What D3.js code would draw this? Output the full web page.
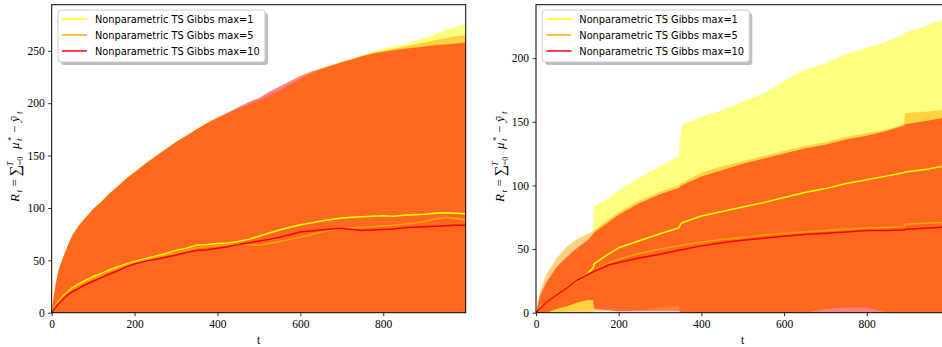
<!DOCTYPE html>
<html><head><meta charset="utf-8">
<script src="https://cdn.jsdelivr.net/npm/d3@7"></script>
<style>
html,body{margin:0;padding:0;background:#fff;}
svg{display:block;}
</style></head><body>
<svg id="chart" width="942" height="347"></svg>
<script>
// ---- series definitions ----
const seriesNames = ["Nonparametric TS Gibbs max=1", "Nonparametric TS Gibbs max=5", "Nonparametric TS Gibbs max=10"];
const seriesColors = ["#ffff00", "#ffa500", "#ff0000"];
const xTicks = [0, 200, 400, 600, 800];
const yTicksLeft = [0, 50, 100, 150, 200, 250];
const yTicksRight = [0, 50, 100, 150, 200];

// ---- left panel: mean regret and upper band edge per setting (lower edge sits below the axis floor) ----
const tLeft = [0, 5, 10, 15, 20, 30, 40, 50, 65, 80, 100, 120, 140, 160, 180, 200, 225, 250, 275, 300, 325, 350, 375, 400, 425, 450, 475, 500, 525, 550, 575, 600, 625, 650, 675, 700, 725, 750, 775, 800, 825, 850, 875, 900, 925, 950, 975, 999];
const meanLeft1  = [0, 4, 7, 10, 12.5, 17, 20.5, 24, 27.5, 30.5, 34.5, 37.5, 41, 44, 46.5, 49, 51.5, 54, 56.5, 59.5, 61.5, 64.5, 65, 66, 66.5, 68, 70, 73, 76, 79, 81.5, 84, 85.5, 87.5, 89, 90.5, 91, 91.5, 92, 92.5, 92, 93, 93.5, 94, 95, 95.5, 95, 94.5];
const meanLeft5  = [0, 3.5, 6.5, 9.5, 12, 16, 19.5, 22.5, 26, 29, 32.5, 36, 39.5, 42.5, 45.5, 48, 50.5, 52.5, 55, 57, 59.5, 62, 63, 64, 65, 65.5, 65, 64.5, 66, 68, 70, 72, 74.5, 77, 79, 80.5, 81, 81.5, 82, 83, 83.5, 84.5, 85.5, 87, 89.5, 91, 90, 88.5];
const meanLeft10 = [0, 3, 5.5, 8, 10, 14, 17.5, 20, 23, 26.5, 30, 33.5, 37, 40, 44, 46.5, 49, 51, 53, 55, 57.5, 59.5, 60, 61.5, 63, 65, 66.5, 68.5, 70, 72, 74.5, 77, 78, 79, 80, 80.5, 79.5, 78.5, 79, 79.5, 80, 81, 81.5, 82, 82.5, 83, 83.5, 83.5];
const highLeft1  = [0, 16, 28, 38, 45.5, 56, 65.5, 74.5, 83.5, 90.5, 99.5, 106.5, 114, 121, 128, 134.5, 142.5, 149.5, 156.5, 163.5, 169.5, 175.5, 181.5, 186.5, 190, 194, 198, 202, 206, 211, 217, 223, 228, 233, 237, 240, 243, 246, 249, 252, 254, 256, 259, 262, 266, 270, 273, 275];
const highLeft5  = [0, 16, 28, 38, 45, 55.5, 65, 74, 83, 90, 99, 106, 114, 121, 128, 134, 142, 149, 156, 163, 169, 175, 181, 186, 190.5, 195, 199, 203, 207.5, 212, 218, 223, 228, 232, 236, 239, 242, 245, 248, 250, 252, 254, 256, 258, 260, 262, 264, 265];
const highLeft10 = [0, 16, 28, 38, 45, 55, 65, 74, 83, 90, 99, 106, 114, 121, 128, 134, 142, 149, 156, 163, 169, 175, 181, 186, 191, 196, 201, 205, 211, 216, 221, 226, 230, 233, 236, 239, 242, 245, 247.5, 249, 250.5, 252, 253, 254, 255.5, 256, 257, 258];

// ---- right panel ----
const tRight = [0, 10, 25, 50, 75, 100, 125, 138, 141, 175, 200, 250, 300, 345, 352, 400, 450, 500, 550, 600, 650, 700, 750, 800, 850, 890, 893, 950, 999];
const meanRight1  = [0, 4, 8, 14, 19.5, 25, 31, 35, 38.5, 46, 51, 56.5, 62, 66.5, 70.5, 76, 79.5, 83, 86.5, 90.5, 94.5, 97.5, 101.5, 104.5, 107.5, 110, 110.5, 113, 116];
const meanRight5  = [0, 3.5, 8, 14, 19.5, 25, 30, 32, 32.5, 39, 42, 46.5, 50, 52.5, 53, 55.5, 57.5, 59, 61, 62.5, 63.5, 64.5, 65.5, 66.5, 67, 67.5, 69.5, 70.5, 71];
const meanRight10 = [0, 3.5, 8, 14, 19.5, 25.5, 30, 32, 32.5, 37.5, 39.5, 43, 46, 49, 49.5, 52.5, 55, 57, 58.5, 60, 61.5, 62.5, 63.5, 64.5, 64.5, 65, 65.5, 66.5, 67.5];
const highRight1  = [0, 12, 22, 34, 42, 50, 56, 60, 84, 90, 96, 106, 115, 123, 147, 154, 159, 166, 172, 182, 191, 196, 203, 208, 213, 219, 220, 226, 232];
const highRight5  = [0, 17, 30, 43, 52, 58, 62, 64, 65, 73, 79, 88, 95, 100, 102, 110, 115, 119, 123, 127, 131, 134, 138, 141, 144, 148, 157, 158, 160];
const highRight10 = [0, 14, 24, 36, 44, 51, 57, 62, 63, 71, 77, 86, 93, 98, 100, 107, 112, 117, 121, 125, 129, 132, 136, 139, 143, 147, 148, 151, 154];
const lowRight1   = [0, 0, 0, 0, 1, 2, 2, 2, 5, 4, 3, 2.5, 2, 1.5, 0, 0, 0, 0, 0, 0, 0, 3, 4, 4, 0, 0, 0, 0, 0];
const lowRight5   = [0, 0, 0, 0, 0, 0, 0, 0, 1, 1, 1, 2, 4, 5, 0, 0, 0, 0, 0, 0, 0, 3, 4, 4, 0, 0, 0, 0, 0];
const lowRight10  = [0, 0, 0, 3, 5, 8, 10, 10, 3, 2, 1, 1, 1, 1, 0, 0, 0, 0, 0, 0, 0, 0, 0, 0, 0, 0, 0, 0, 0];

const panels = [
  { left: 51.7, right: 465.7, yMax: 294, yTicks: yTicksLeft, t: tLeft,
    mean: [meanLeft1, meanLeft5, meanLeft10], high: [highLeft1, highLeft5, highLeft10], low: null },
  { left: 536, right: 949, yMax: 242, yTicks: yTicksRight, t: tRight,
    mean: [meanRight1, meanRight5, meanRight10], high: [highRight1, highRight5, highRight10], low: [lowRight1, lowRight5, lowRight10] }
];

const plotTop = 4.7, plotBottom = 312.7;
const svg = d3.select("#chart");
const serif = "'Liberation Serif', 'DejaVu Serif', serif";
const sans = "'DejaVu Sans', sans-serif";

// pieces of the y-axis formula: [text, position along the label, vertical offset, size, italic]
const yLabelParts = [
  ["R", -48.5, 0, 13, true],
  ["t", -39, 3, 9, true],
  ["=", -33, 0, 13, false],
  ["∑", -23, 1, 15, false],
  ["T", -12.5, -6, 8, true],
  ["t=0", -14, 4, 8, false],
  ["μ", 4.5, 0, 13, true],
  ["*", 12.5, -5, 8.5, false],
  ["t", 12.5, 3, 9, true],
  ["−", 20.5, 0, 13, false],
  ["ȳ", 31.5, 0, 13, true],
  ["t", 39.5, 3, 9, true]
];

panels.forEach((p, pi) => {
  const x = d3.scaleLinear().domain([0, 999]).range([p.left, p.right]);
  const y = d3.scaleLinear().domain([0, p.yMax]).range([plotBottom, plotTop]);
  const g = svg.append("g");

  const clipId = "clip" + pi;
  svg.append("clipPath").attr("id", clipId)
    .append("rect").attr("x", p.left).attr("y", plotTop).attr("width", p.right - p.left).attr("height", plotBottom - plotTop);
  const plot = g.append("g").attr("clip-path", `url(#${clipId})`);

  // confidence bands
  seriesNames.forEach((name, si) => {
    const rows = p.t.map((t, i) => ({ t, lo: p.low ? p.low[si][i] : y.domain()[0], hi: p.high[si][i] }));
    const area = d3.area().x(d => x(d.t)).y0(d => y(d.lo)).y1(d => y(d.hi));
    plot.append("path").attr("d", area(rows))
      .attr("fill", seriesColors[si]).attr("fill-opacity", 0.5).attr("stroke", "none");
  });
  // mean curves
  seriesNames.forEach((name, si) => {
    const rows = p.t.map((t, i) => ({ t, v: p.mean[si][i] }));
    const line = d3.line().x(d => x(d.t)).y(d => y(d.v));
    plot.append("path").attr("d", line(rows))
      .attr("fill", "none").attr("stroke", seriesColors[si]).attr("stroke-width", 1.5)
      .attr("stroke-linejoin", "round");
  });

  // axes
  const xAxis = g.append("g").attr("transform", `translate(0,${plotBottom})`)
    .call(d3.axisBottom(x).tickValues(xTicks).tickSize(3.5).tickPadding(3.5).tickFormat(d3.format("d")));
  const yAxis = g.append("g").attr("transform", `translate(${p.left},0)`)
    .call(d3.axisLeft(y).tickValues(p.yTicks).tickSize(3.5).tickPadding(3.5).tickFormat(d3.format("d")));
  [xAxis, yAxis].forEach(a => {
    a.select(".domain").remove();
    a.selectAll(".tick line").attr("stroke", "#000").attr("stroke-width", 0.8);
    a.selectAll(".tick text").attr("font-family", serif).attr("font-size", 11.5).attr("fill", "#000");
  });

  // frame
  g.append("rect").attr("x", p.left).attr("y", plotTop).attr("width", p.right - p.left).attr("height", plotBottom - plotTop)
    .attr("fill", "none").attr("stroke", "#000").attr("stroke-width", 1);

  // axis titles
  g.append("text").attr("x", (p.left + p.right) / 2).attr("y", 344)
    .attr("text-anchor", "middle").attr("font-family", serif).attr("font-size", 11.5).text("t");

  const yl = g.append("text")
    .attr("transform", `translate(${p.left - 32.5},153.5) rotate(-90)`)
    .attr("font-family", serif);
  yLabelParts.forEach(([txt, pos, dy, size, it]) => {
    yl.append("tspan").attr("x", pos).attr("y", dy).attr("font-size", size)
      .attr("font-style", it ? "italic" : "normal").text(txt);
  });

  // legend
  const lx = p.left + 6.3, ly = 10, lw = 207, lh = 52;
  const leg = g.append("g");
  leg.append("rect").attr("x", lx + 3).attr("y", ly + 3).attr("width", lw).attr("height", lh).attr("rx", 3)
    .attr("fill", "#808080").attr("fill-opacity", 0.5);
  leg.append("rect").attr("x", lx).attr("y", ly).attr("width", lw).attr("height", lh).attr("rx", 3)
    .attr("fill", "#fff").attr("stroke", "#cccccc").attr("stroke-width", 1);
  seriesNames.forEach((name, si) => {
    const cy = ly + 9 + si * 16;
    leg.append("line").attr("x1", lx + 4).attr("x2", lx + 29).attr("y1", cy).attr("y2", cy)
      .attr("stroke", seriesColors[si]).attr("stroke-width", 1.5);
    leg.append("text").attr("x", lx + 37).attr("y", cy + 3.6)
      .attr("font-family", sans).attr("font-size", 9.8).attr("fill", "#000").text(name);
  });
});
</script>
</body></html>
